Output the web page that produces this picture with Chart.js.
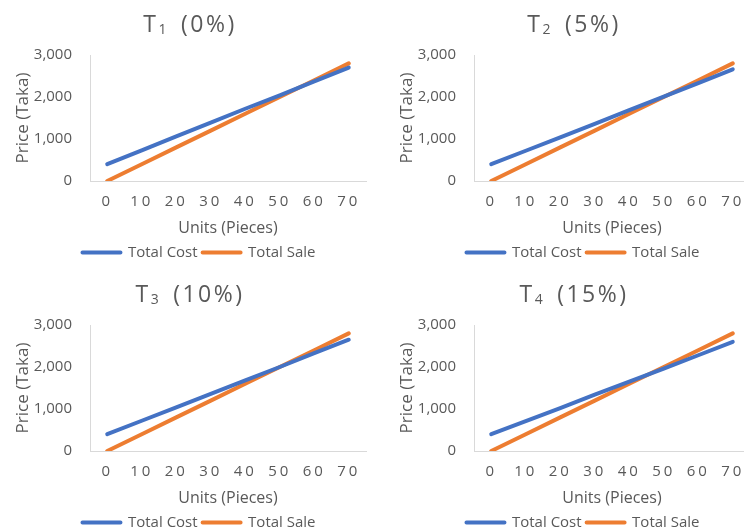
<!DOCTYPE html>
<html>
<head>
<meta charset="utf-8">
<script src="https://cdn.jsdelivr.net/npm/chart.js@4.4.0/dist/chart.umd.min.js"></script>
<style>
  html, body { margin: 0; padding: 0; background: #ffffff; width: 744px; height: 532px; overflow: hidden; }
  .panel { position: absolute; width: 384px; height: 270px; }
  .panel canvas { display: block; }
</style>
</head>
<body>
<div class="panel" style="left:0;top:0"><canvas id="p1" width="384" height="270"></canvas></div>
<div class="panel" style="left:384px;top:0"><canvas id="p2" width="384" height="270"></canvas></div>
<div class="panel" style="left:0;top:270px"><canvas id="p3" width="384" height="270"></canvas></div>
<div class="panel" style="left:384px;top:270px"><canvas id="p4" width="384" height="270"></canvas></div>
<script>
// Units produced (pieces) on the x axis
const units = [0, 10, 20, 30, 40, 50, 60, 70];

// Treatment numbers and their rates, used in each panel heading
const treatments = ['1', '2', '3', '4'];
const rates = ['0%', '5%', '10%', '15%'];

// Total cost (Taka) per treatment
const costT1 = [400, 730, 1060, 1390, 1720, 2040, 2370, 2700];
const costT2 = [400, 720, 1040, 1360, 1690, 2010, 2330, 2660];
const costT3 = [400, 720, 1040, 1360, 1680, 2000, 2330, 2650];
const costT4 = [400, 710, 1020, 1340, 1650, 1960, 2280, 2600];

// Total sale (Taka) per treatment
const saleT1 = [0, 400, 800, 1200, 1600, 2000, 2400, 2800];
const saleT2 = [0, 400, 800, 1200, 1600, 2000, 2400, 2800];
const saleT3 = [0, 400, 800, 1200, 1600, 2000, 2400, 2800];
const saleT4 = [0, 400, 800, 1200, 1600, 2000, 2400, 2800];

// Price axis ticks
const priceTicks = [0, 1000, 2000, 3000];

const seriesNames = ['Total Cost', 'Total Sale'];
const xTitle = 'Units (Pieces)';
const yTitle = 'Price (Taka)';

const FONT = "'Open Sans', 'Noto Sans', sans-serif";
const TEXT = '#595959';
const AXIS = '#D9D9D9';
const BLUE = '#4472C4';
const ORANGE = '#ED7D31';

// Heading drawn as "T" with a subscript treatment number, then the rate
const panelTitle = {
  id: 'panelTitle',
  afterDraw(chart, args, opts) {
    const ctx = chart.ctx;
    ctx.save();
    ctx.fillStyle = TEXT;
    ctx.textBaseline = 'alphabetic';
    ctx.textAlign = 'left';
    ctx.letterSpacing = '2.5px';
    const big = '23px ' + FONT;
    const small = '14px ' + FONT;
    ctx.font = big;
    const wMain = ctx.measureText('T').width;
    const wRest = ctx.measureText('(' + opts.rate + ')').width;
    ctx.font = small;
    const wSub = ctx.measureText(opts.sub).width;
    const gap = 12;
    let x = opts.centerX - (wMain + wSub + gap + wRest) / 2;
    const base = opts.baseline;
    ctx.font = big;
    ctx.fillText('T', x, base);
    x += wMain;
    ctx.font = small;
    ctx.fillText(opts.sub, x, base + 1.5);
    x += wSub + gap;
    ctx.font = big;
    ctx.fillText('(' + opts.rate + ')', x, base);
    ctx.restore();
  }
};

// Wider spacing between digits of the unit tick labels
const spacedUnitTicks = {
  id: 'spacedUnitTicks',
  afterLayout(chart) {
    const s = chart.scales.x;
    if (s && !s._spacedLabels) {
      const orig = s.drawLabels;
      s.drawLabels = function (area) {
        const c = this.ctx;
        c.save();
        c.letterSpacing = '3px';
        orig.call(this, area);
        c.restore();
      };
      s._spacedLabels = true;
    }
  }
};

function makeChart(canvasId, idx, cost, sale) {
  return new Chart(document.getElementById(canvasId), {
    type: 'line',
    data: {
      labels: units,
      datasets: [
        { label: seriesNames[0], data: cost, borderColor: BLUE, backgroundColor: BLUE,
          borderWidth: 4, pointRadius: 0, tension: 0,
          borderCapStyle: 'round', borderJoinStyle: 'round' },
        { label: seriesNames[1], data: sale, borderColor: ORANGE, backgroundColor: ORANGE,
          borderWidth: 4, pointRadius: 0, tension: 0,
          borderCapStyle: 'round', borderJoinStyle: 'round' }
      ]
    },
    options: {
      responsive: false,
      animation: false,
      events: [],
      layout: { padding: { top: 55, left: 32, right: 18, bottom: 0 } },
      plugins: {
        tooltip: { enabled: false },
        title: { display: false },
        legend: {
          position: 'bottom',
          labels: {
            color: TEXT,
            font: { family: FONT, size: 15 },
            boxWidth: 38,
            boxHeight: 0,
            padding: 5
          }
        },
        panelTitle: { sub: treatments[idx], rate: rates[idx], centerX: 190, baseline: 32 }
      },
      scales: {
        x: {
          type: 'category',
          offset: true,
          grid: { display: false, drawTicks: false },
          border: { display: true, color: AXIS, width: 1 },
          ticks: { color: TEXT, font: { family: FONT, size: 15 }, padding: 12, maxRotation: 0, autoSkip: false },
          title: { display: true, text: xTitle, color: TEXT, font: { family: FONT, size: 16 }, padding: { top: 0, bottom: 2 } },
          afterFit(scale) { scale.height = 59; }
        },
        y: {
          min: 0,
          max: 3000,
          grid: { display: false, drawTicks: false },
          border: { display: true, color: AXIS, width: 1 },
          afterBuildTicks(scale) { scale.ticks = priceTicks.map(v => ({ value: v })); },
          ticks: {
            color: TEXT,
            font: { family: FONT, size: 15 },
            padding: 18,
            callback: v => Number(v).toLocaleString('en-US')
          },
          title: { display: true, text: yTitle, color: TEXT, font: { family: FONT, size: 17 }, padding: { top: -19.2, bottom: 0 } },
          afterFit(scale) { scale.width = 58; }
        }
      }
    },
    plugins: [panelTitle, spacedUnitTicks]
  });
}

makeChart('p1', 0, costT1, saleT1);
makeChart('p2', 1, costT2, saleT2);
makeChart('p3', 2, costT3, saleT3);
makeChart('p4', 3, costT4, saleT4);
</script>
</body>
</html>
